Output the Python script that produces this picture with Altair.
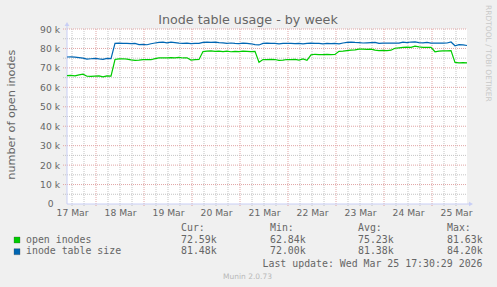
import altair as alt
import pandas as pd

# ---------------- data (values in thousands) ----------------
open_inodes = [66.0, 66.1, 65.9, 66.4, 66.8, 65.7, 65.6, 65.8, 65.9, 65.4, 65.9, 65.8,
               74.3, 74.6, 74.7, 74.5, 74.1, 73.9, 74.0, 74.2, 74.3, 74.2, 74.8, 75.1,
               75.2, 75.1, 75.3, 75.2, 75.4, 75.1, 75.2, 74.0, 74.2, 74.3,
               78.4, 78.6, 78.7, 78.5, 78.6, 78.4, 78.6, 78.3, 78.5, 78.4, 78.6, 78.5, 78.4, 78.5,
               72.9, 74.3, 74.3, 74.4, 74.3, 73.9, 74.0, 74.3, 74.3, 74.4, 74.0, 74.6, 73.9,
               76.7, 77.0, 76.8, 76.8, 76.9, 76.8, 76.9,
               78.5, 78.6, 78.9, 79.1, 79.3, 79.6, 79.7, 79.5, 79.6, 79.1, 78.9, 79.0, 78.9, 79.1,
               80.1, 80.3, 80.5, 80.7, 80.6, 81.2, 80.8, 80.6, 80.5, 80.6,
               78.3, 78.6, 78.8, 78.8, 78.9,
               72.8, 72.6, 72.7, 72.6]
table_size = [75.6, 75.7, 75.5, 75.3, 75.0, 74.5, 74.7, 74.9, 74.6, 74.4, 74.9, 74.8,
              82.6, 82.7, 82.6, 82.6, 82.5, 82.6, 82.0, 82.1, 81.9, 82.4, 82.8, 83.1,
              83.2, 82.9, 83.2, 83.0, 82.7, 82.6, 82.7, 82.5, 82.6, 82.6,
              83.1, 83.2, 83.1, 83.2, 83.0, 82.9, 82.6, 82.8, 82.6, 82.5, 82.7, 82.6, 82.4, 82.0,
              81.8, 82.6, 82.7, 82.6, 82.6, 82.4, 82.6, 82.6, 82.6, 82.5, 82.6, 82.4, 82.6,
              82.7, 82.6, 82.6, 82.4, 82.6, 82.5, 82.6,
              82.4, 82.8, 83.1, 83.3, 83.1, 83.0, 82.8, 82.9, 83.0, 83.1, 82.6, 82.7, 82.8, 82.7,
              82.8, 82.7, 83.2, 83.0, 83.3, 83.4, 83.0, 82.9, 83.1, 82.7,
              82.7, 82.8, 82.7, 82.8, 83.3,
              81.4, 82.0, 81.8, 81.5]
series_names = ["open inodes", "inode table size"]
series_colors = ["#00CC00", "#0066B3"]
cur_vals = ["72.59k", "81.48k"]
min_vals = ["62.84k", "72.00k"]
avg_vals = ["75.23k", "81.38k"]
max_vals = ["81.63k", "84.20k"]
y_tick_values = [10, 20, 30, 40, 50, 60, 70, 80, 90]
day_numbers = [17, 18, 19, 20, 21, 22, 23, 24, 25]
title_text = "Inode table usage - by week"
y_title = "number of open inodes"
last_update = "Last update: Wed Mar 25 17:30:29 2026"

# sample times (rrd points averaged to 2 h steps)
times = pd.date_range("2026-03-17 09:30", periods=len(open_inodes), freq="2h")
tstr = [t.strftime("%Y-%m-%dT%H:%M:%SZ") for t in times]
df = pd.DataFrame({
    "t": tstr * 2,
    "v": open_inodes + table_size,
    "s": [series_names[0]] * len(tstr) + [series_names[1]] * len(tstr),
})

W, H = 400, 175
FONT = "DejaVu Sans"
MONO = "DejaVu Sans Mono"
TXT = "#666666"
AXIS_C = "#C8CEF5"

xscale = alt.Scale(type="utc",
                   domain=[alt.DateTime(year=2026, month=3, date=17, hours=9, minutes=30, utc=True),
                           alt.DateTime(year=2026, month=3, date=25, hours=17, minutes=30, utc=True)])
yscale = alt.Scale(domain=[0, 90], nice=False, zero=True)

noon_values = [alt.DateTime(year=2026, month=3, date=d, hours=12, utc=True) for d in day_numbers]
xaxis = alt.Axis(values=noon_values, labelExpr="utcFormat(datum.value, '%d %b')",
                 domain=False, ticks=False, grid=False, labelFont=FONT,
                 labelFontSize=9.2, labelColor=TXT, labelPadding=4,
                 labelFlush=False, labelOverlap=False, title=None)
yaxis = alt.Axis(values=y_tick_values,
                 labelExpr="datum.value + ' k'",
                 domain=False, ticks=False, grid=False, labelFont=FONT,
                 labelFontSize=9.2, labelColor=TXT, labelPadding=7.5,
                 labelOverlap=False, labelFlush=False, title=None)

# grid positions
six_h = pd.date_range("2026-03-17 12:00", "2026-03-25 12:00", freq="6h")
major_x = [t.strftime("%Y-%m-%dT%H:%M:%SZ") for t in six_h if t.hour == 0]
minor_x = [t.strftime("%Y-%m-%dT%H:%M:%SZ") for t in six_h if t.hour != 0]
major_y = [10, 20, 30, 40, 50, 60, 70, 80, 90]
minor_y = [5, 15, 25, 35, 45, 55, 65, 75, 85]

MINOR_C, MAJOR_C = "#c4c4c4", "#e0a4a4"

minor_h = alt.Chart(pd.DataFrame({"v": minor_y})).mark_rule(
    color=MINOR_C, strokeDash=[1, 1], strokeWidth=1).encode(
    y=alt.Y("v:Q", scale=yscale, axis=yaxis), x=alt.value(-4), x2=alt.value(W))
minor_v = alt.Chart(pd.DataFrame({"t": minor_x})).mark_rule(
    color=MINOR_C, strokeDash=[1, 1], strokeWidth=1).encode(
    x=alt.X("t:T", scale=xscale, axis=xaxis), y=alt.value(0), y2=alt.value(H + 3))
major_h = alt.Chart(pd.DataFrame({"v": major_y})).mark_rule(
    color=MAJOR_C, strokeDash=[1, 1], strokeWidth=1).encode(
    y=alt.Y("v:Q", scale=yscale, axis=yaxis), x=alt.value(-4), x2=alt.value(W))
major_v = alt.Chart(pd.DataFrame({"t": major_x})).mark_rule(
    color=MAJOR_C, strokeDash=[1, 1], strokeWidth=1).encode(
    x=alt.X("t:T", scale=xscale, axis=xaxis), y=alt.value(0), y2=alt.value(H + 3))

one = alt.Data(values=[{}])
y_axis_line = alt.Chart(one).mark_rule(color=AXIS_C, strokeWidth=1).encode(
    x=alt.value(0), y=alt.value(-4), y2=alt.value(H))
x_axis_line = alt.Chart(one).mark_rule(color=AXIS_C, strokeWidth=1).encode(
    x=alt.value(0), x2=alt.value(W + 4), y=alt.value(H))
arrow_up = alt.Chart(one).mark_point(shape="triangle-up", filled=True, size=22,
                                     color=AXIS_C, opacity=1).encode(
    x=alt.value(0), y=alt.value(-5))
arrow_right = alt.Chart(one).mark_point(shape="triangle-right", filled=True, size=22,
                                        color=AXIS_C, opacity=1).encode(
    x=alt.value(W + 4), y=alt.value(H))

lines = alt.Chart(df).mark_line(strokeWidth=1.2).encode(
    x=alt.X("t:T", scale=xscale, axis=xaxis),
    y=alt.Y("v:Q", scale=yscale, axis=yaxis),
    color=alt.Color("s:N", scale=alt.Scale(domain=series_names, range=series_colors), legend=None),
    order=alt.Order("t:T"),
)


def txt(text, x, y, size, color=TXT, font=FONT, align="left", baseline="alphabetic", angle=0):
    kw = dict(text=text, fontSize=size, color=color, font=font, align=align, baseline=baseline)
    if angle:
        kw["angle"] = angle
    return alt.Chart(one).mark_text(**kw).encode(x=alt.value(x), y=alt.value(y))


OX, OY = 67, 29  # plot origin in page pixels
texts = [
    txt(title_text, 248 - OX, 23.5 - OY, 12.7, align="center"),
    txt(y_title, 11.5 - OX, 114.7 - OY, 11.2, align="center", baseline="middle", angle=270),
    txt("RRDTOOL / TOBI OETIKER", 488 - OX, 53.3 - OY, 7.5, color="#c8c8c8",
        align="center", baseline="middle", angle=90),
    txt("0", 53.5 - OX, H, 9.2, align="right", baseline="middle"),
]
col_x = [181, 270, 358, 447]
headers = ["Cur:", "Min:", "Avg:", "Max:"]
for hx, h in zip(col_x, headers):
    texts.append(txt(h, hx - OX, 230.5 - OY, 9.9, font=MONO))
row_y = [242.6, 254.4]
box_y = [240, 251.7]
boxes = []
for i, name in enumerate(series_names):
    texts.append(txt(name, 26 - OX, row_y[i] - OY, 9.9, font=MONO))
    for cx, val in zip(col_x, [cur_vals[i], min_vals[i], avg_vals[i], max_vals[i]]):
        texts.append(txt(val, cx - OX, row_y[i] - OY, 9.9, font=MONO))
    boxes.append(alt.Chart(one).mark_square(size=36, opacity=1, color=series_colors[i],
                                            stroke="#444444", strokeWidth=0.3).encode(
        x=alt.value(17 - OX), y=alt.value(box_y[i] - OY)))
texts.append(txt(last_update, 482.5 - OX, 266.5 - OY, 9.9, font=MONO, align="right"))
texts.append(txt("Munin 2.0.73", 247.5 - OX, 279 - OY, 7.5, color="#b8b8b8", align="center"))

chart = alt.layer(
    minor_h, minor_v, major_h, major_v, y_axis_line, x_axis_line, arrow_up, arrow_right,
    lines, *boxes, *texts
).properties(
    width=W, height=H,
    autosize="none",
    padding={"left": OX, "top": OY, "right": 497 - OX - W, "bottom": 287 - OY - H},
    background="#F0F0F0",
).configure_view(stroke=None, fill="white")

chart.save("out.html", embed_options={"renderer": "svg", "actions": False})
